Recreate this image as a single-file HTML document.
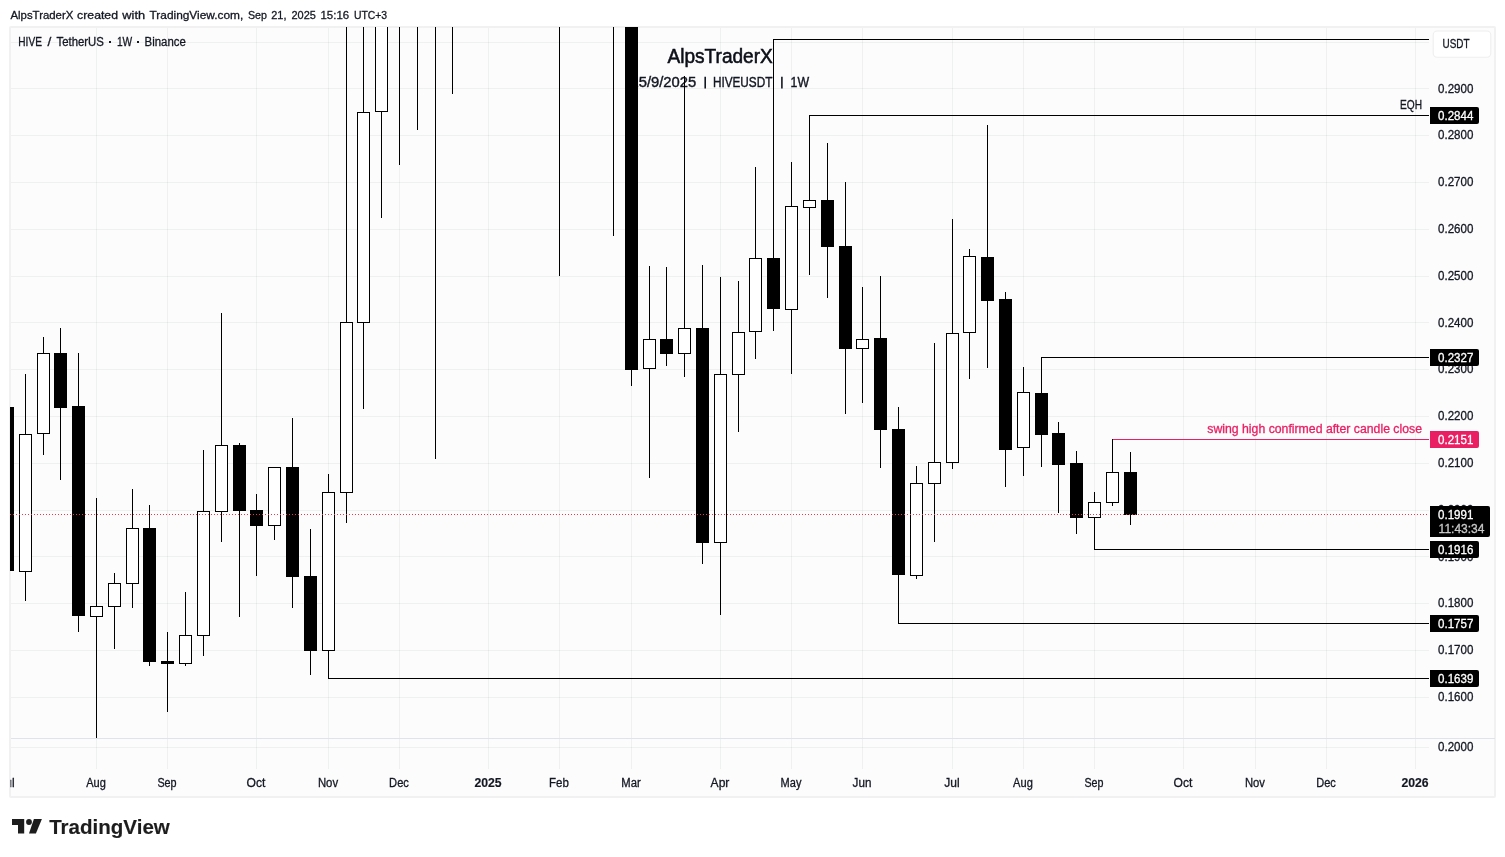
<!DOCTYPE html>
<html><head><meta charset="utf-8"><title>HIVEUSDT 1W</title>
<style>
html,body{margin:0;padding:0;background:#fff;}
body{width:1505px;height:857px;overflow:hidden;font-family:"Liberation Sans",sans-serif;}
svg{display:block;position:absolute;left:0;top:0;will-change:transform}
svg rect{shape-rendering:crispEdges}
svg text{font-family:"Liberation Sans",sans-serif;white-space:pre}
</style></head><body>
<svg width="1505" height="857" viewBox="0 0 1505 857">
<path d="M11 26h1483a2 2 0 0 1 2 2v768a2 2 0 0 1 -2 2h-1483a2 2 0 0 1 -2 -2v-768a2 2 0 0 1 2 -2z" fill="#f1f1f1"/>
<rect x="11" y="28" width="1483" height="768" fill="#fcfcfc"/>
<rect x="96" y="28" width="1" height="741" fill="#2a2e39" fill-opacity="0.06"/>
<rect x="167" y="28" width="1" height="741" fill="#2a2e39" fill-opacity="0.06"/>
<rect x="256" y="28" width="1" height="741" fill="#2a2e39" fill-opacity="0.06"/>
<rect x="328" y="28" width="1" height="741" fill="#2a2e39" fill-opacity="0.06"/>
<rect x="399" y="28" width="1" height="741" fill="#2a2e39" fill-opacity="0.06"/>
<rect x="488" y="28" width="1" height="741" fill="#2a2e39" fill-opacity="0.06"/>
<rect x="559" y="28" width="1" height="741" fill="#2a2e39" fill-opacity="0.06"/>
<rect x="631" y="28" width="1" height="741" fill="#2a2e39" fill-opacity="0.06"/>
<rect x="720" y="28" width="1" height="741" fill="#2a2e39" fill-opacity="0.06"/>
<rect x="791" y="28" width="1" height="741" fill="#2a2e39" fill-opacity="0.06"/>
<rect x="862" y="28" width="1" height="741" fill="#2a2e39" fill-opacity="0.06"/>
<rect x="952" y="28" width="1" height="741" fill="#2a2e39" fill-opacity="0.06"/>
<rect x="1023" y="28" width="1" height="741" fill="#2a2e39" fill-opacity="0.06"/>
<rect x="1094" y="28" width="1" height="741" fill="#2a2e39" fill-opacity="0.06"/>
<rect x="1183" y="28" width="1" height="741" fill="#2a2e39" fill-opacity="0.06"/>
<rect x="1255" y="28" width="1" height="741" fill="#2a2e39" fill-opacity="0.06"/>
<rect x="1326" y="28" width="1" height="741" fill="#2a2e39" fill-opacity="0.06"/>
<rect x="1415" y="28" width="1" height="741" fill="#2a2e39" fill-opacity="0.06"/>
<rect x="11" y="42" width="1418" height="1" fill="#2a2e39" fill-opacity="0.06"/>
<rect x="11" y="88" width="1418" height="1" fill="#2a2e39" fill-opacity="0.06"/>
<rect x="11" y="135" width="1418" height="1" fill="#2a2e39" fill-opacity="0.06"/>
<rect x="11" y="182" width="1418" height="1" fill="#2a2e39" fill-opacity="0.06"/>
<rect x="11" y="229" width="1418" height="1" fill="#2a2e39" fill-opacity="0.06"/>
<rect x="11" y="276" width="1418" height="1" fill="#2a2e39" fill-opacity="0.06"/>
<rect x="11" y="322" width="1418" height="1" fill="#2a2e39" fill-opacity="0.06"/>
<rect x="11" y="369" width="1418" height="1" fill="#2a2e39" fill-opacity="0.06"/>
<rect x="11" y="416" width="1418" height="1" fill="#2a2e39" fill-opacity="0.06"/>
<rect x="11" y="463" width="1418" height="1" fill="#2a2e39" fill-opacity="0.06"/>
<rect x="11" y="510" width="1418" height="1" fill="#2a2e39" fill-opacity="0.06"/>
<rect x="11" y="556" width="1418" height="1" fill="#2a2e39" fill-opacity="0.06"/>
<rect x="11" y="603" width="1418" height="1" fill="#2a2e39" fill-opacity="0.06"/>
<rect x="11" y="650" width="1418" height="1" fill="#2a2e39" fill-opacity="0.06"/>
<rect x="11" y="697" width="1418" height="1" fill="#2a2e39" fill-opacity="0.06"/>
<rect x="11" y="747" width="1418" height="1" fill="#2a2e39" fill-opacity="0.06"/>
<rect x="11" y="738" width="1484" height="1" fill="#e0e3eb"/>
<text x="667.5" y="62.5" font-size="20" fill="#0c0f18" stroke="#0c0f18" stroke-width="0.55" text-anchor="start" font-weight="400" textLength="105.3" lengthAdjust="spacingAndGlyphs">AlpsTraderX</text>
<text x="630.5" y="87.4" font-size="14" fill="#131722" stroke="#131722" stroke-width="0.4" text-anchor="start" font-weight="400" textLength="65.7" lengthAdjust="spacingAndGlyphs">15/9/2025</text>
<path d="M704.4 76.8h1.6v11.7h-1.6z" fill="#131722"/>
<text x="712.9" y="87.4" font-size="14" fill="#131722" stroke="#131722" stroke-width="0.4" text-anchor="start" font-weight="400" textLength="59.5" lengthAdjust="spacingAndGlyphs">HIVEUSDT</text>
<path d="M781.1 76.8h1.6v11.7h-1.6z" fill="#131722"/>
<text x="790.6" y="87.4" font-size="14" fill="#131722" stroke="#131722" stroke-width="0.4" text-anchor="start" font-weight="400" textLength="18.5" lengthAdjust="spacingAndGlyphs">1W</text>
<defs><clipPath id="c"><rect x="10" y="27" width="1419" height="711"/></clipPath></defs>
<g clip-path="url(#c)">
<rect x="773" y="39" width="656" height="1" fill="#000"/>
<rect x="809" y="115" width="620" height="1" fill="#000"/>
<rect x="1041" y="357" width="388" height="1" fill="#000"/>
<rect x="1112" y="439" width="317" height="1" fill="#e91e63"/>
<rect x="1094" y="549" width="335" height="1" fill="#000"/>
<rect x="898" y="623" width="531" height="1" fill="#000"/>
<rect x="328" y="678" width="1101" height="1" fill="#000"/>
<rect x="7" y="407" width="1" height="164" fill="#000"/>
<rect x="1" y="407" width="13" height="164" fill="#000"/>
<rect x="25" y="374" width="1" height="227" fill="#000"/>
<rect x="19" y="434" width="13" height="138" fill="#000"/>
<rect x="20" y="435" width="11" height="136" fill="#fff"/>
<rect x="43" y="337" width="1" height="118" fill="#000"/>
<rect x="37" y="353" width="13" height="81" fill="#000"/>
<rect x="38" y="354" width="11" height="79" fill="#fff"/>
<rect x="60" y="328" width="1" height="152" fill="#000"/>
<rect x="54" y="353" width="13" height="55" fill="#000"/>
<rect x="78" y="353" width="1" height="279" fill="#000"/>
<rect x="72" y="406" width="13" height="210" fill="#000"/>
<rect x="96" y="498" width="1" height="240" fill="#000"/>
<rect x="90" y="606" width="13" height="11" fill="#000"/>
<rect x="91" y="607" width="11" height="9" fill="#fff"/>
<rect x="114" y="573" width="1" height="76" fill="#000"/>
<rect x="108" y="583" width="13" height="24" fill="#000"/>
<rect x="109" y="584" width="11" height="22" fill="#fff"/>
<rect x="132" y="489" width="1" height="119" fill="#000"/>
<rect x="126" y="528" width="13" height="56" fill="#000"/>
<rect x="127" y="529" width="11" height="54" fill="#fff"/>
<rect x="149" y="505" width="1" height="161" fill="#000"/>
<rect x="143" y="528" width="13" height="134" fill="#000"/>
<rect x="167" y="632" width="1" height="80" fill="#000"/>
<rect x="161" y="661" width="13" height="3" fill="#000"/>
<rect x="185" y="592" width="1" height="74" fill="#000"/>
<rect x="179" y="635" width="13" height="29" fill="#000"/>
<rect x="180" y="636" width="11" height="27" fill="#fff"/>
<rect x="203" y="450" width="1" height="206" fill="#000"/>
<rect x="197" y="511" width="13" height="125" fill="#000"/>
<rect x="198" y="512" width="11" height="123" fill="#fff"/>
<rect x="221" y="313" width="1" height="229" fill="#000"/>
<rect x="215" y="445" width="13" height="67" fill="#000"/>
<rect x="216" y="446" width="11" height="65" fill="#fff"/>
<rect x="239" y="443" width="1" height="174" fill="#000"/>
<rect x="233" y="445" width="13" height="66" fill="#000"/>
<rect x="256" y="494" width="1" height="82" fill="#000"/>
<rect x="250" y="510" width="13" height="16" fill="#000"/>
<rect x="274" y="467" width="1" height="73" fill="#000"/>
<rect x="268" y="467" width="13" height="59" fill="#000"/>
<rect x="269" y="468" width="11" height="57" fill="#fff"/>
<rect x="292" y="418" width="1" height="190" fill="#000"/>
<rect x="286" y="467" width="13" height="110" fill="#000"/>
<rect x="310" y="529" width="1" height="146" fill="#000"/>
<rect x="304" y="576" width="13" height="75" fill="#000"/>
<rect x="328" y="474" width="1" height="205" fill="#000"/>
<rect x="322" y="492" width="13" height="159" fill="#000"/>
<rect x="323" y="493" width="11" height="157" fill="#fff"/>
<rect x="346" y="20" width="1" height="503" fill="#000"/>
<rect x="340" y="322" width="13" height="171" fill="#000"/>
<rect x="341" y="323" width="11" height="169" fill="#fff"/>
<rect x="363" y="20" width="1" height="389" fill="#000"/>
<rect x="357" y="112" width="13" height="211" fill="#000"/>
<rect x="358" y="113" width="11" height="209" fill="#fff"/>
<rect x="381" y="20" width="1" height="198" fill="#000"/>
<rect x="375" y="20" width="13" height="92" fill="#000"/>
<rect x="376" y="21" width="11" height="90" fill="#fff"/>
<rect x="399" y="20" width="1" height="145" fill="#000"/>
<rect x="417" y="20" width="1" height="110" fill="#000"/>
<rect x="435" y="20" width="1" height="439" fill="#000"/>
<rect x="452" y="20" width="1" height="74" fill="#000"/>
<rect x="559" y="20" width="1" height="256" fill="#000"/>
<rect x="613" y="20" width="1" height="216" fill="#000"/>
<rect x="631" y="20" width="1" height="366" fill="#000"/>
<rect x="625" y="20" width="13" height="350" fill="#000"/>
<rect x="649" y="266" width="1" height="212" fill="#000"/>
<rect x="643" y="339" width="13" height="30" fill="#000"/>
<rect x="644" y="340" width="11" height="28" fill="#fff"/>
<rect x="666" y="267" width="1" height="99" fill="#000"/>
<rect x="660" y="339" width="13" height="15" fill="#000"/>
<rect x="684" y="76" width="1" height="301" fill="#000"/>
<rect x="678" y="328" width="13" height="26" fill="#000"/>
<rect x="679" y="329" width="11" height="24" fill="#fff"/>
<rect x="702" y="265" width="1" height="299" fill="#000"/>
<rect x="696" y="328" width="13" height="215" fill="#000"/>
<rect x="720" y="277" width="1" height="338" fill="#000"/>
<rect x="714" y="374" width="13" height="169" fill="#000"/>
<rect x="715" y="375" width="11" height="167" fill="#fff"/>
<rect x="738" y="281" width="1" height="151" fill="#000"/>
<rect x="732" y="332" width="13" height="43" fill="#000"/>
<rect x="733" y="333" width="11" height="41" fill="#fff"/>
<rect x="755" y="167" width="1" height="192" fill="#000"/>
<rect x="749" y="258" width="13" height="74" fill="#000"/>
<rect x="750" y="259" width="11" height="72" fill="#fff"/>
<rect x="773" y="39" width="1" height="292" fill="#000"/>
<rect x="767" y="258" width="13" height="51" fill="#000"/>
<rect x="791" y="162" width="1" height="212" fill="#000"/>
<rect x="785" y="206" width="13" height="104" fill="#000"/>
<rect x="786" y="207" width="11" height="102" fill="#fff"/>
<rect x="809" y="115" width="1" height="160" fill="#000"/>
<rect x="803" y="200" width="13" height="8" fill="#000"/>
<rect x="804" y="201" width="11" height="6" fill="#fff"/>
<rect x="827" y="143" width="1" height="155" fill="#000"/>
<rect x="821" y="200" width="13" height="47" fill="#000"/>
<rect x="845" y="182" width="1" height="232" fill="#000"/>
<rect x="839" y="246" width="13" height="103" fill="#000"/>
<rect x="862" y="287" width="1" height="116" fill="#000"/>
<rect x="856" y="339" width="13" height="10" fill="#000"/>
<rect x="857" y="340" width="11" height="8" fill="#fff"/>
<rect x="880" y="276" width="1" height="192" fill="#000"/>
<rect x="874" y="338" width="13" height="92" fill="#000"/>
<rect x="898" y="407" width="1" height="217" fill="#000"/>
<rect x="892" y="429" width="13" height="146" fill="#000"/>
<rect x="916" y="466" width="1" height="113" fill="#000"/>
<rect x="910" y="483" width="13" height="93" fill="#000"/>
<rect x="911" y="484" width="11" height="91" fill="#fff"/>
<rect x="934" y="343" width="1" height="199" fill="#000"/>
<rect x="928" y="462" width="13" height="22" fill="#000"/>
<rect x="929" y="463" width="11" height="20" fill="#fff"/>
<rect x="952" y="219" width="1" height="250" fill="#000"/>
<rect x="946" y="333" width="13" height="130" fill="#000"/>
<rect x="947" y="334" width="11" height="128" fill="#fff"/>
<rect x="969" y="249" width="1" height="130" fill="#000"/>
<rect x="963" y="256" width="13" height="77" fill="#000"/>
<rect x="964" y="257" width="11" height="75" fill="#fff"/>
<rect x="987" y="125" width="1" height="243" fill="#000"/>
<rect x="981" y="257" width="13" height="44" fill="#000"/>
<rect x="1005" y="292" width="1" height="195" fill="#000"/>
<rect x="999" y="299" width="13" height="151" fill="#000"/>
<rect x="1023" y="367" width="1" height="109" fill="#000"/>
<rect x="1017" y="392" width="13" height="56" fill="#000"/>
<rect x="1018" y="393" width="11" height="54" fill="#fff"/>
<rect x="1041" y="357" width="1" height="110" fill="#000"/>
<rect x="1035" y="393" width="13" height="42" fill="#000"/>
<rect x="1058" y="422" width="1" height="91" fill="#000"/>
<rect x="1052" y="433" width="13" height="32" fill="#000"/>
<rect x="1076" y="451" width="1" height="83" fill="#000"/>
<rect x="1070" y="463" width="13" height="55" fill="#000"/>
<rect x="1094" y="492" width="1" height="58" fill="#000"/>
<rect x="1088" y="502" width="13" height="16" fill="#000"/>
<rect x="1089" y="503" width="11" height="14" fill="#fff"/>
<rect x="1112" y="439" width="1" height="67" fill="#000"/>
<rect x="1106" y="472" width="13" height="31" fill="#000"/>
<rect x="1107" y="473" width="11" height="29" fill="#fff"/>
<rect x="1130" y="452" width="1" height="73" fill="#000"/>
<rect x="1124" y="472" width="13" height="43" fill="#000"/>
</g>
<line x1="10" y1="514.5" x2="1428" y2="514.5" stroke="#f23645" stroke-width="1" stroke-dasharray="1 2"/>
<text x="86.2" y="786.8" font-size="12" fill="#131722" stroke="#131722" stroke-width="0.3" text-anchor="start" font-weight="400" textLength="19.6" lengthAdjust="spacingAndGlyphs">Aug</text>
<text x="157.4" y="786.8" font-size="12" fill="#131722" stroke="#131722" stroke-width="0.3" text-anchor="start" font-weight="400" textLength="19.2" lengthAdjust="spacingAndGlyphs">Sep</text>
<text x="246.6" y="786.8" font-size="12" fill="#131722" stroke="#131722" stroke-width="0.3" text-anchor="start" font-weight="400" textLength="18.8" lengthAdjust="spacingAndGlyphs">Oct</text>
<text x="317.9" y="786.8" font-size="12" fill="#131722" stroke="#131722" stroke-width="0.3" text-anchor="start" font-weight="400" textLength="20.2" lengthAdjust="spacingAndGlyphs">Nov</text>
<text x="389.1" y="786.8" font-size="12" fill="#131722" stroke="#131722" stroke-width="0.3" text-anchor="start" font-weight="400" textLength="19.8" lengthAdjust="spacingAndGlyphs">Dec</text>
<text x="474.4" y="786.8" font-size="12" fill="#131722" stroke="#131722" stroke-width="0.15" text-anchor="start" font-weight="700" textLength="27.2" lengthAdjust="spacingAndGlyphs">2025</text>
<text x="549.1" y="786.8" font-size="12" fill="#131722" stroke="#131722" stroke-width="0.3" text-anchor="start" font-weight="400" textLength="19.8" lengthAdjust="spacingAndGlyphs">Feb</text>
<text x="621.3" y="786.8" font-size="12" fill="#131722" stroke="#131722" stroke-width="0.3" text-anchor="start" font-weight="400" textLength="19.4" lengthAdjust="spacingAndGlyphs">Mar</text>
<text x="710.6" y="786.8" font-size="12" fill="#131722" stroke="#131722" stroke-width="0.3" text-anchor="start" font-weight="400" textLength="18.8" lengthAdjust="spacingAndGlyphs">Apr</text>
<text x="780.6" y="786.8" font-size="12" fill="#131722" stroke="#131722" stroke-width="0.3" text-anchor="start" font-weight="400" textLength="20.8" lengthAdjust="spacingAndGlyphs">May</text>
<text x="852.6" y="786.8" font-size="12" fill="#131722" stroke="#131722" stroke-width="0.3" text-anchor="start" font-weight="400" textLength="18.8" lengthAdjust="spacingAndGlyphs">Jun</text>
<text x="944.3" y="786.8" font-size="12" fill="#131722" stroke="#131722" stroke-width="0.3" text-anchor="start" font-weight="400" textLength="15.4" lengthAdjust="spacingAndGlyphs">Jul</text>
<text x="1013.1" y="786.8" font-size="12" fill="#131722" stroke="#131722" stroke-width="0.3" text-anchor="start" font-weight="400" textLength="19.7" lengthAdjust="spacingAndGlyphs">Aug</text>
<text x="1084.5" y="786.8" font-size="12" fill="#131722" stroke="#131722" stroke-width="0.3" text-anchor="start" font-weight="400" textLength="19.0" lengthAdjust="spacingAndGlyphs">Sep</text>
<text x="1173.6" y="786.8" font-size="12" fill="#131722" stroke="#131722" stroke-width="0.3" text-anchor="start" font-weight="400" textLength="18.8" lengthAdjust="spacingAndGlyphs">Oct</text>
<text x="1245.0" y="786.8" font-size="12" fill="#131722" stroke="#131722" stroke-width="0.3" text-anchor="start" font-weight="400" textLength="20.0" lengthAdjust="spacingAndGlyphs">Nov</text>
<text x="1316.2" y="786.8" font-size="12" fill="#131722" stroke="#131722" stroke-width="0.3" text-anchor="start" font-weight="400" textLength="19.6" lengthAdjust="spacingAndGlyphs">Dec</text>
<text x="1401.4" y="786.8" font-size="12" fill="#131722" stroke="#131722" stroke-width="0.15" text-anchor="start" font-weight="700" textLength="27.2" lengthAdjust="spacingAndGlyphs">2026</text>
<defs><clipPath id="cl"><rect x="10.5" y="770" width="100" height="26"/></clipPath></defs>
<text x="-0.7000000000000002" y="786.8" font-size="12" fill="#131722" stroke="#131722" stroke-width="0.3" text-anchor="start" font-weight="400" textLength="15.4" lengthAdjust="spacingAndGlyphs" clip-path="url(#cl)">Jul</text>
<text x="1438" y="93" font-size="12" fill="#131722" stroke="#131722" stroke-width="0.3" text-anchor="start" font-weight="400" textLength="35.3" lengthAdjust="spacingAndGlyphs">0.2900</text>
<text x="1438" y="139" font-size="12" fill="#131722" stroke="#131722" stroke-width="0.3" text-anchor="start" font-weight="400" textLength="35.3" lengthAdjust="spacingAndGlyphs">0.2800</text>
<text x="1438" y="186" font-size="12" fill="#131722" stroke="#131722" stroke-width="0.3" text-anchor="start" font-weight="400" textLength="35.3" lengthAdjust="spacingAndGlyphs">0.2700</text>
<text x="1438" y="233" font-size="12" fill="#131722" stroke="#131722" stroke-width="0.3" text-anchor="start" font-weight="400" textLength="35.3" lengthAdjust="spacingAndGlyphs">0.2600</text>
<text x="1438" y="280" font-size="12" fill="#131722" stroke="#131722" stroke-width="0.3" text-anchor="start" font-weight="400" textLength="35.3" lengthAdjust="spacingAndGlyphs">0.2500</text>
<text x="1438" y="327" font-size="12" fill="#131722" stroke="#131722" stroke-width="0.3" text-anchor="start" font-weight="400" textLength="35.3" lengthAdjust="spacingAndGlyphs">0.2400</text>
<text x="1438" y="373" font-size="12" fill="#131722" stroke="#131722" stroke-width="0.3" text-anchor="start" font-weight="400" textLength="35.3" lengthAdjust="spacingAndGlyphs">0.2300</text>
<text x="1438" y="420" font-size="12" fill="#131722" stroke="#131722" stroke-width="0.3" text-anchor="start" font-weight="400" textLength="35.3" lengthAdjust="spacingAndGlyphs">0.2200</text>
<text x="1438" y="467" font-size="12" fill="#131722" stroke="#131722" stroke-width="0.3" text-anchor="start" font-weight="400" textLength="35.3" lengthAdjust="spacingAndGlyphs">0.2100</text>
<text x="1438" y="514" font-size="12" fill="#131722" stroke="#131722" stroke-width="0.3" text-anchor="start" font-weight="400" textLength="35.3" lengthAdjust="spacingAndGlyphs">0.2000</text>
<text x="1438" y="561" font-size="12" fill="#131722" stroke="#131722" stroke-width="0.3" text-anchor="start" font-weight="400" textLength="35.3" lengthAdjust="spacingAndGlyphs">0.1900</text>
<text x="1438" y="607" font-size="12" fill="#131722" stroke="#131722" stroke-width="0.3" text-anchor="start" font-weight="400" textLength="35.3" lengthAdjust="spacingAndGlyphs">0.1800</text>
<text x="1438" y="654" font-size="12" fill="#131722" stroke="#131722" stroke-width="0.3" text-anchor="start" font-weight="400" textLength="35.3" lengthAdjust="spacingAndGlyphs">0.1700</text>
<text x="1438" y="701" font-size="12" fill="#131722" stroke="#131722" stroke-width="0.3" text-anchor="start" font-weight="400" textLength="35.3" lengthAdjust="spacingAndGlyphs">0.1600</text>
<text x="1438" y="751" font-size="12" fill="#131722" stroke="#131722" stroke-width="0.3" text-anchor="start" font-weight="400" textLength="35.3" lengthAdjust="spacingAndGlyphs">0.2000</text>
<path d="M1437.2 31h49.6a4 4 0 0 1 4 4v18.2a4 4 0 0 1 -4 4h-49.6a4 4 0 0 1 -4 -4v-18.2a4 4 0 0 1 4 -4z" fill="#fff" stroke="#eeeeee" stroke-width="1.1"/>
<text x="1442.5" y="47.6" font-size="12" fill="#131722" stroke="#131722" stroke-width="0.3" text-anchor="start" font-weight="400" textLength="27" lengthAdjust="spacingAndGlyphs">USDT</text>
<path d="M1430 107h47a2 2 0 0 1 2 2v13a2 2 0 0 1 -2 2h-47z" fill="#000"/>
<text x="1438" y="120" font-size="12" fill="#fff" stroke="#fff" stroke-width="0.3" text-anchor="start" font-weight="400" textLength="35.3" lengthAdjust="spacingAndGlyphs">0.2844</text>
<path d="M1430 349h47a2 2 0 0 1 2 2v13a2 2 0 0 1 -2 2h-47z" fill="#000"/>
<text x="1438" y="362" font-size="12" fill="#fff" stroke="#fff" stroke-width="0.3" text-anchor="start" font-weight="400" textLength="35.3" lengthAdjust="spacingAndGlyphs">0.2327</text>
<path d="M1430 431h47a2 2 0 0 1 2 2v13a2 2 0 0 1 -2 2h-47z" fill="#e91e63"/>
<text x="1438" y="444" font-size="12" fill="#fff" stroke="#fff" stroke-width="0.3" text-anchor="start" font-weight="400" textLength="35.3" lengthAdjust="spacingAndGlyphs">0.2151</text>
<path d="M1430 541h47a2 2 0 0 1 2 2v13a2 2 0 0 1 -2 2h-47z" fill="#000"/>
<text x="1438" y="554" font-size="12" fill="#fff" stroke="#fff" stroke-width="0.3" text-anchor="start" font-weight="400" textLength="35.3" lengthAdjust="spacingAndGlyphs">0.1916</text>
<path d="M1430 615h47a2 2 0 0 1 2 2v13a2 2 0 0 1 -2 2h-47z" fill="#000"/>
<text x="1438" y="628" font-size="12" fill="#fff" stroke="#fff" stroke-width="0.3" text-anchor="start" font-weight="400" textLength="35.3" lengthAdjust="spacingAndGlyphs">0.1757</text>
<path d="M1430 670h47a2 2 0 0 1 2 2v13a2 2 0 0 1 -2 2h-47z" fill="#000"/>
<text x="1438" y="683" font-size="12" fill="#fff" stroke="#fff" stroke-width="0.3" text-anchor="start" font-weight="400" textLength="35.3" lengthAdjust="spacingAndGlyphs">0.1639</text>
<path d="M1430 506h58a2 2 0 0 1 2 2v27a2 2 0 0 1 -2 2h-58z" fill="#000"/>
<text x="1438" y="519" font-size="12" fill="#fff" stroke="#fff" stroke-width="0.3" text-anchor="start" font-weight="400" textLength="35.3" lengthAdjust="spacingAndGlyphs">0.1991</text>
<text x="1438.6" y="533" font-size="12" fill="#c8c8c8" stroke="#c8c8c8" stroke-width="0.3" text-anchor="start" font-weight="400" textLength="45.9" lengthAdjust="spacingAndGlyphs">11:43:34</text>
<text x="1400" y="108.8" font-size="12" fill="#131722" stroke="#131722" stroke-width="0.3" text-anchor="start" font-weight="400" textLength="22" lengthAdjust="spacingAndGlyphs">EQH</text>
<text x="1207.3" y="432.9" font-size="12" fill="#e91e63" stroke="#e91e63" stroke-width="0.3" text-anchor="start" font-weight="400" textLength="214.7" lengthAdjust="spacingAndGlyphs">swing high confirmed after candle close</text>
<text x="10.4" y="18.7" font-size="11.5" fill="#131722" stroke="#131722" stroke-width="0.3" text-anchor="start" font-weight="400" textLength="63.0" lengthAdjust="spacingAndGlyphs">AlpsTraderX</text>
<text x="77.1" y="18.7" font-size="11.5" fill="#131722" stroke="#131722" stroke-width="0.3" text-anchor="start" font-weight="400" textLength="40.9" lengthAdjust="spacingAndGlyphs">created</text>
<text x="122.3" y="18.7" font-size="11.5" fill="#131722" stroke="#131722" stroke-width="0.3" text-anchor="start" font-weight="400" textLength="22.8" lengthAdjust="spacingAndGlyphs">with</text>
<text x="149.5" y="18.7" font-size="11.5" fill="#131722" stroke="#131722" stroke-width="0.3" text-anchor="start" font-weight="400" textLength="93.8" lengthAdjust="spacingAndGlyphs">TradingView.com,</text>
<text x="248.0" y="18.7" font-size="11.5" fill="#131722" stroke="#131722" stroke-width="0.3" text-anchor="start" font-weight="400" textLength="19.0" lengthAdjust="spacingAndGlyphs">Sep</text>
<text x="271.3" y="18.7" font-size="11.5" fill="#131722" stroke="#131722" stroke-width="0.3" text-anchor="start" font-weight="400" textLength="15.2" lengthAdjust="spacingAndGlyphs">21,</text>
<text x="291.5" y="18.7" font-size="11.5" fill="#131722" stroke="#131722" stroke-width="0.3" text-anchor="start" font-weight="400" textLength="24.4" lengthAdjust="spacingAndGlyphs">2025</text>
<text x="320.5" y="18.7" font-size="11.5" fill="#131722" stroke="#131722" stroke-width="0.3" text-anchor="start" font-weight="400" textLength="28.6" lengthAdjust="spacingAndGlyphs">15:16</text>
<text x="353.9" y="18.7" font-size="11.5" fill="#131722" stroke="#131722" stroke-width="0.3" text-anchor="start" font-weight="400" textLength="33.2" lengthAdjust="spacingAndGlyphs">UTC+3</text>
<text x="18.3" y="45.8" font-size="12" fill="#131722" stroke="#131722" stroke-width="0.3" text-anchor="start" font-weight="400" textLength="23.6" lengthAdjust="spacingAndGlyphs">HIVE</text>
<text x="47.4" y="45.8" font-size="12" fill="#131722" stroke="#131722" stroke-width="0.3" text-anchor="start" font-weight="400" textLength="3.8" lengthAdjust="spacingAndGlyphs">/</text>
<text x="56.5" y="45.8" font-size="12" fill="#131722" stroke="#131722" stroke-width="0.3" text-anchor="start" font-weight="400" textLength="47.4" lengthAdjust="spacingAndGlyphs">TetherUS</text>
<text x="116.9" y="45.8" font-size="12" fill="#131722" stroke="#131722" stroke-width="0.3" text-anchor="start" font-weight="400" textLength="15.3" lengthAdjust="spacingAndGlyphs">1W</text>
<text x="144.6" y="45.8" font-size="12" fill="#131722" stroke="#131722" stroke-width="0.3" text-anchor="start" font-weight="400" textLength="41.2" lengthAdjust="spacingAndGlyphs">Binance</text>
<rect x="109" y="41" width="2" height="2" fill="#131722"/>
<rect x="137" y="41" width="2" height="2" fill="#131722"/>
<path d="M12 819h12.2v14.6h-6.2v-8.6h-6z" fill="#1d1d1d"/>
<circle cx="29" cy="822" r="2.9" fill="#1d1d1d"/>
<path d="M33.9 819h8l-6 14.6h-6.9z" fill="#1d1d1d"/>
<text x="49.2" y="833.6" font-size="21" fill="#1d1d1d" stroke="#1d1d1d" stroke-width="0.15" text-anchor="start" font-weight="700" textLength="120.6" lengthAdjust="spacingAndGlyphs">TradingView</text>
</svg>
</body></html>
